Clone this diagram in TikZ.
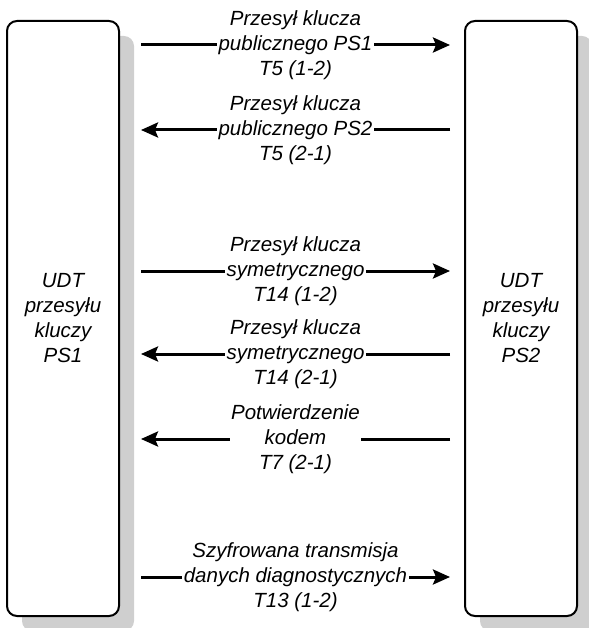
\documentclass[tikz,border=0pt]{standalone}
\usepackage{fontspec}
\setmainfont{Liberation Sans}
\usetikzlibrary{arrows.meta,shadows}
\begin{document}
\begin{tikzpicture}[x=1pt,y=-1pt,
  txt/.style={font=\fontsize{20.5}{25}\selectfont\itshape, align=center},
  udt/.style={txt, draw=black, line width=2pt, fill=white, rounded corners=10pt,
    minimum width=112pt, minimum height=595pt, outer sep=0pt, inner sep=0pt,
    drop shadow={shadow xshift=15pt, shadow yshift=-15pt, fill=black!19, opacity=1}},
  msg/.style={line width=3pt, -{Stealth[length=17pt,width=15pt,inset=3pt]}},
  lbl/.style={txt, fill=white, inner sep=1.5pt}]
\useasboundingbox (0,0) rectangle (588,628);

\node[udt] (ps1) at (63,318.5) {UDT\\przesyłu\\kluczy\\PS1};
\node[udt] (ps2) at (521,318.5) {UDT\\przesyłu\\kluczy\\PS2};

% rows of the message exchange
\coordinate (y1) at (0,45);
\coordinate (y2) at (0,130);
\coordinate (y3) at (0,271);
\coordinate (y4) at (0,354);
\coordinate (y5) at (0,439);
\coordinate (y6) at (0,577);

\draw[msg] ([xshift=22pt]ps1.east |- y1) -- node[lbl]{Przesył klucza\\publicznego PS1\\T5 (1-2)} ([xshift=-15pt]ps2.west |- y1);
\draw[msg] ([xshift=-15pt]ps2.west |- y2) -- node[lbl]{Przesył klucza\\publicznego PS2\\T5 (2-1)} ([xshift=22pt]ps1.east |- y2);
\draw[msg] ([xshift=22pt]ps1.east |- y3) -- node[lbl]{Przesył klucza\\symetrycznego\\T14 (1-2)} ([xshift=-15pt]ps2.west |- y3);
\draw[msg] ([xshift=-15pt]ps2.west |- y4) -- node[lbl]{Przesył klucza\\symetrycznego\\T14 (2-1)} ([xshift=22pt]ps1.east |- y4);
\draw[msg] ([xshift=-15pt]ps2.west |- y5) -- node[lbl]{Potwierdzenie\\kodem\\T7 (2-1)} ([xshift=22pt]ps1.east |- y5);
\draw[msg] ([xshift=22pt]ps1.east |- y6) -- node[lbl]{Szyfrowana transmisja\\danych diagnostycznych\\T13 (1-2)} ([xshift=-15pt]ps2.west |- y6);
\end{tikzpicture}
\end{document}
